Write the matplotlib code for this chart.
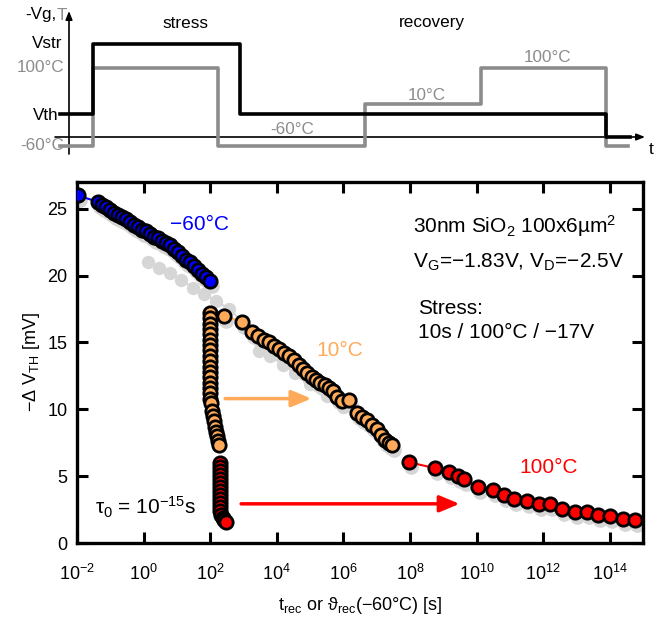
import numpy as np
import matplotlib
matplotlib.use('Agg')
import matplotlib.pyplot as plt
from matplotlib.ticker import NullLocator
from matplotlib.transforms import offset_copy

plt.rcParams['font.family'] = ['Liberation Sans', 'DejaVu Sans']
plt.rcParams['mathtext.fontset'] = 'custom'
plt.rcParams['mathtext.rm'] = 'Liberation Sans'
plt.rcParams['mathtext.it'] = 'Liberation Sans:italic'
plt.rcParams['mathtext.default'] = 'regular'

# ---- recovery data (log10 of time in s, -dVth in mV) ----
blue_logt = [-1.98, -1.36, -1.24, -1.12, -1.0, -0.88, -0.76, -0.64, -0.52, -0.40,
             -0.28, -0.16, -0.04, 0.08, 0.20, 0.32, 0.44, 0.56, 0.68, 0.80,
             0.92, 1.04, 1.16, 1.28, 1.40, 1.52, 1.64, 1.76, 1.88, 1.99]
blue_dv = [26.0, 25.5, 25.3, 25.1, 24.9, 24.7, 24.5, 24.4, 24.2, 24.0,
           23.8, 23.6, 23.4, 23.3, 23.1, 22.9, 22.8, 22.6, 22.45, 22.3,
           22.0, 21.8, 21.5, 21.2, 21.0, 20.7, 20.4, 20.1, 19.9, 19.6]

orange_logt = [2.42, 2.97, 3.26, 3.45, 3.62, 3.76, 3.92, 4.06, 4.22, 4.36,
               4.52, 4.66, 4.80, 4.92, 5.05, 5.17, 5.30, 5.45, 5.58, 5.70,
               5.82, 5.95, 6.18, 6.40, 6.55, 6.70, 6.85, 7.00, 7.12, 7.24,
               7.38, 7.45]
orange_dv = [17.0, 16.5, 15.8, 15.5, 15.2, 15.0, 14.7, 14.5, 14.2, 14.0,
             13.7, 13.35, 13.0, 12.7, 12.45, 12.2, 12.0, 11.85, 11.6, 11.35,
             10.9, 10.6, 10.7, 9.7, 9.45, 9.2, 8.85, 8.5, 8.1, 7.7,
             7.5, 7.3]

red_logt = [7.96, 8.74, 9.18, 9.45, 9.63, 10.03, 10.48, 10.83, 11.13, 11.52,
            11.87, 12.22, 12.57, 12.97, 13.31, 13.66, 14.01, 14.40, 14.75]
red_dv = [6.05, 5.6, 5.3, 5.0, 4.8, 4.2, 4.0, 3.6, 3.3, 3.15,
          2.9, 2.9, 2.55, 2.35, 2.3, 2.1, 2.0, 1.8, 1.75]

# raw recovery at 10C and 100C (unmapped time axis)
orange_raw_logt = [1.98, 1.98, 1.98, 1.98, 1.98, 1.98, 1.98, 1.98, 1.98, 1.98,
                   1.98, 1.98, 1.98, 1.98, 1.99, 1.99, 2.0, 2.01, 2.04, 2.07,
                   2.10, 2.13, 2.17, 2.21, 2.24, 2.27]
orange_raw_dv = [17.2, 16.8, 16.4, 16.0, 15.6, 15.2, 14.8, 14.4, 14.0, 13.6,
                 13.2, 12.8, 12.4, 12.0, 11.6, 11.2, 10.8, 10.5, 9.9, 9.5,
                 9.1, 8.7, 8.3, 8.0, 7.6, 7.35]
red_raw_logt = [2.28, 2.28, 2.28, 2.28, 2.28, 2.28, 2.28, 2.28, 2.28, 2.28,
                2.28, 2.29, 2.30, 2.33, 2.38, 2.43, 2.47]
red_raw_dv = [6.0, 5.7, 5.4, 5.1, 4.8, 4.5, 4.2, 3.9, 3.6, 3.3,
              3.0, 2.7, 2.4, 2.1, 1.9, 1.7, 1.6]

# reference curve (grey)
gray_logt = [0.13, 0.45, 0.78, 1.12, 1.47, 1.82, 2.18, 2.57, 2.95, 3.30,
             3.46, 3.80, 4.20, 4.56, 5.00, 5.50, 6.00]
gray_dv = [21.0, 20.6, 20.2, 19.7, 19.1, 18.6, 18.1, 17.5, 16.6, 15.8,
           14.35, 14.0, 13.3, 12.7, 11.9, 11.0, 10.2]

# ---- schematic (time units, level units) ----
vg_t = [60, 93, 240, 606, 630]
vg_level = [23, 93, 23, 0, 0]
temp_t = [60, 93, 218, 365, 481, 606, 628]
temp_level = [-9, 69, -9, 33, 69, -9, -9]

c_blue = '#0000ff'
c_orange = '#ffaa5a'
c_red = '#ff0000'
c_gray = '#d6d6d6'
c_dgray = '#8c8c8c'

fig = plt.figure(figsize=(6.57, 6.25), dpi=100)

# ---------------- top schematic ----------------
sch = fig.add_axes([0, 1 - 170 / 625, 1, 170 / 625])
sch.set_xlim(0, 657)
sch.set_ylim(-33, 137)
sch.axis('off')
sch.annotate('', xy=(69, 126), xytext=(69, -17),
             arrowprops=dict(arrowstyle='-|>,head_length=0.5,head_width=0.2',
                             color='black', lw=1.2, shrinkA=0, shrinkB=0))
sch.annotate('', xy=(645, 0), xytext=(55, 0),
             arrowprops=dict(arrowstyle='-|>,head_length=0.5,head_width=0.2',
                             color='black', lw=1.2, shrinkA=0, shrinkB=0))
sch.step(temp_t, temp_level, where='post', color=c_dgray, lw=2.6, zorder=3)
sch.step(vg_t, vg_level, where='post', color='black', lw=2.6, zorder=4)
fs = 12.3
sch.text(57, 122, '-Vg,', ha='right', va='center', fontsize=fs)
sch.text(57, 122, 'T', ha='left', va='center', fontsize=fs, color=c_dgray)
sch.text(62, 94, 'Vstr', ha='right', va='center', fontsize=fs)
sch.text(64, 69, '100°C', ha='right', va='center', fontsize=fs, color=c_dgray)
sch.text(59, 22, 'Vth', ha='right', va='center', fontsize=fs)
sch.text(64, -8, '-60°C', ha='right', va='center', fontsize=fs, color=c_dgray)
sch.text(651, -12, 't', ha='center', va='center', fontsize=fs)
sch.text(185, 114, 'stress', ha='center', va='center', fontsize=fs)
sch.text(432, 114, 'recovery', ha='center', va='center', fontsize=fs)
sch.text(292, 8, '-60°C', ha='center', va='center', fontsize=fs, color=c_dgray)
sch.text(427, 41, '10°C', ha='center', va='center', fontsize=fs, color=c_dgray)
sch.text(548, 79, '100°C', ha='center', va='center', fontsize=fs, color=c_dgray)

# ---------------- main plot ----------------
ax = fig.add_axes([0.1172, 0.1312, 0.8615, 0.5776])
ax.set_xscale('log')

shadow = offset_copy(ax.transData, fig, x=2, y=-5, units='dots')
ms = 9.6
mew = 2.0

ax.plot(10.0 ** np.array(gray_logt), gray_dv, '-o', color=c_gray, ms=ms,
        lw=1.5, mec='none', zorder=1)
for lt, dv in [(blue_logt, blue_dv), (orange_logt, orange_dv), (red_logt, red_dv)]:
    ax.plot(10.0 ** np.array(lt), dv, 'o', color=c_gray, ms=ms + 1, mec='none',
            transform=shadow, zorder=1)

for lt, dv, col in [(blue_logt, blue_dv, c_blue), (orange_logt, orange_dv, c_orange),
                    (red_logt, red_dv, c_red), (orange_raw_logt, orange_raw_dv, c_orange),
                    (red_raw_logt, red_raw_dv, c_red)]:
    ax.plot(10.0 ** np.array(lt), dv, '-o', color=col, lw=1.5, ms=ms, mfc=col,
            mec='black', mew=mew, zorder=3)

ax.set_xlim(1e-2, 1e15)
ax.set_ylim(0, 27)
ax.set_xticks([10.0 ** k for k in range(-2, 15, 2)])
ax.set_yticks([0, 5, 10, 15, 20, 25])
ax.xaxis.set_minor_locator(NullLocator())
ax.tick_params(direction='in', length=8, width=2.2, top=True, right=True,
               labelsize=13, pad=7)
ax.tick_params(axis='x', pad=15)
for s in ax.spines.values():
    s.set_linewidth(2.4)

ax.set_xlabel(r't$_{rec}$ or ϑ$_{rec}$(−60°C) [s]', fontsize=13, labelpad=8)
ax.set_ylabel(r'−Δ V$_{TH}$ [mV]', fontsize=13, labelpad=4)

ax.text(10 ** 0.8, 23.4, '−60°C', color=c_blue, fontsize=15)
ax.text(10 ** 5.2, 14.0, '10°C', color=c_orange, fontsize=15)
ax.text(10 ** 11.3, 5.2, '100°C', color=c_red, fontsize=15)
ax.text(10 ** 8.1, 23.2, r'30nm SiO$_2$ 100x6µm$^2$', fontsize=15)
ax.text(10 ** 8.1, 20.6, r'V$_G$=−1.83V, V$_D$=−2.5V', fontsize=15)
ax.text(10 ** 8.25, 17.1, 'Stress:', fontsize=15)
ax.text(10 ** 8.25, 15.3, '10s / 100°C / −17V', fontsize=15)
ax.text(10 ** -1.45, 2.7, r'τ$_0$ = 10$^{−15}$s', fontsize=15, va='center')

ax.annotate('', xy=(10 ** 5.04, 10.8), xytext=(10 ** 2.45, 10.8),
            arrowprops=dict(arrowstyle='-|>,head_length=1.2,head_width=0.5',
                            color=c_orange, lw=2.5, shrinkA=0, shrinkB=0))
ax.annotate('', xy=(10 ** 9.49, 2.93), xytext=(10 ** 2.93, 2.93),
            arrowprops=dict(arrowstyle='-|>,head_length=1.2,head_width=0.5',
                            color=c_red, lw=2.5, shrinkA=0, shrinkB=0))

fig.savefig('out.png', dpi=100)
